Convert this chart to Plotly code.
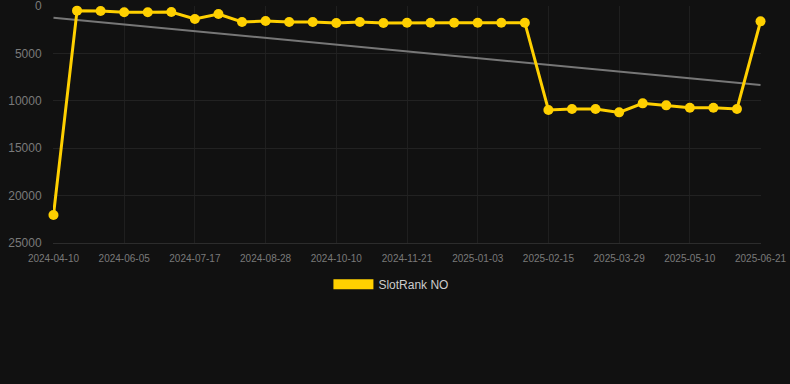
import numpy as np
import plotly.graph_objects as go

dates = [
    "2024-04-10", "2024-05-08", "2024-05-22", "2024-06-05", "2024-06-19", "2024-07-03",
    "2024-07-17", "2024-07-31", "2024-08-14", "2024-08-28", "2024-09-11", "2024-09-25",
    "2024-10-10", "2024-10-24", "2024-11-07", "2024-11-21", "2024-12-05", "2024-12-19",
    "2025-01-03", "2025-01-17", "2025-01-31", "2025-02-15", "2025-03-01", "2025-03-15",
    "2025-03-29", "2025-04-12", "2025-04-26", "2025-05-10", "2025-05-24", "2025-06-07",
    "2025-06-21",
]
ranks = [
    22050, 490, 530, 660, 660, 630, 1370, 840, 1690, 1580, 1690, 1690, 1790, 1690, 1790,
    1760, 1760, 1760, 1760, 1760, 1760, 10970, 10860, 10860, 11220, 10270, 10480, 10730,
    10730, 10860, 1620,
]
tick_labels = dates[::3]
y_ticks = [0, 5000, 10000, 15000, 20000, 25000]
series_name = "SlotRank NO"

idx = np.arange(len(ranks))
slope, intercept = np.polyfit(idx, np.array(ranks, dtype=float), 1)
trend = [intercept, intercept + slope * idx[-1]]

gold = "#FFD000"

fig = go.Figure()
fig.add_trace(go.Scatter(
    x=[dates[0], dates[-1]], y=trend, mode="lines",
    line=dict(color="#777777", width=2), showlegend=False, hoverinfo="skip",
))
fig.add_trace(go.Scatter(
    x=dates, y=ranks, mode="lines+markers", name=series_name,
    line=dict(color=gold, width=3), marker=dict(color=gold, size=10),
    showlegend=False, cliponaxis=False,
))
fig.add_trace(go.Scatter(
    x=[None], y=[None], mode="lines", name=series_name,
    line=dict(color=gold, width=12), showlegend=True,
))

fig.update_layout(
    width=790, height=384,
    paper_bgcolor="#111111", plot_bgcolor="#111111",
    margin=dict(l=53, r=29, t=6, b=141, autoexpand=False),
    font=dict(family="Liberation Sans, Arial, sans-serif", color="#7a7a7a", size=11),
    showlegend=True,
    legend=dict(orientation="h", x=0.478, xanchor="center", y=-0.113, yanchor="top",
                font=dict(color="#cccccc", size=12), itemwidth=40),
    xaxis=dict(type="category", categoryorder="array", categoryarray=dates,
               tickmode="array", tickvals=tick_labels, ticktext=tick_labels,
               showgrid=True, gridcolor="#1f1f1f", zeroline=False,
               showline=True, linecolor="#2c2c2c", automargin=False,
               tickfont=dict(size=10, color="#7a7a7a"),
               ticks="outside", ticklen=6, tickcolor="rgba(0,0,0,0)",
               range=[-0.02, 30.02]),
    yaxis=dict(range=[25000, 0], tickvals=y_ticks, tickformat="d",
               showgrid=True, gridcolor="#222222", zeroline=False, automargin=False,
               tickfont=dict(size=12, color="#7a7a7a"),
               ticks="outside", ticklen=8, tickcolor="rgba(0,0,0,0)",
               ticklabeloverflow="allow"),
)

fig.write_html(
    "out.html",
    config={"displayModeBar": False},
    post_script="document.body.style.margin='0';document.body.style.background='#111111';",
)
